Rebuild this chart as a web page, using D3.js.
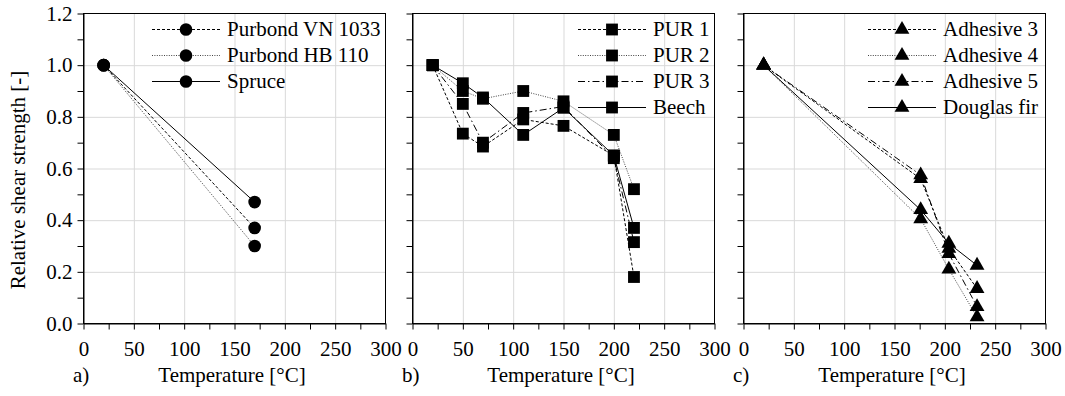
<!DOCTYPE html>
<html>
<head>
<meta charset="utf-8">
<script src="https://cdn.jsdelivr.net/npm/d3@7"></script>
<style>
  body { margin: 0; background: #fff; }
  svg, svg text { font-family: 'Liberation Serif', 'Times New Roman', Times, 'DejaVu Serif', serif; }
</style>
</head>
<body>
<div id="chart"></div>
<script>
// panel a) - Purbond adhesives vs spruce
const xA = [20, 170];
const purbondVN = [1.0, 0.37];
const purbondHB = [1.0, 0.30];
const spruce = [1.0, 0.47];

// panel b) - PUR adhesives vs beech
const xB = [20, 50, 70, 110, 150, 200, 220];
const pur1 = [1.0, 0.735, 0.685, 0.79, 0.765, 0.65, 0.18];
const pur2 = [1.0, 0.90, 0.87, 0.90, 0.86, 0.73, 0.52];
const pur3 = [1.0, 0.85, 0.70, 0.815, 0.84, 0.64, 0.315];
const beech = [1.0, 0.93, 0.875, 0.73, 0.835, 0.65, 0.37];

// panel c) - adhesives vs Douglas fir
const xC = [20, 176, 204, 232];
const adhesive3 = [1.0, 0.56, 0.29, 0.135];
const adhesive4 = [1.0, 0.405, 0.21, 0.025];
const adhesive5 = [1.0, 0.575, 0.27, 0.065];
const douglasFir = [1.0, 0.44, 0.31, 0.225];

const xTicks = d3.range(0, 301, 25);
const yTicks = d3.range(0, 13).map(i => i / 10);

const width = 1065, height = 396;
const plotTop = 13, plotBottom = 323, plotW = 302;

// line styles
const dash = {solid: null, dashed: "3,2", dotted: "1,1.4", dashdot: "7,3,1.5,3"};

const panels = [
  {left: 83, letter: "a)", xs: xA, shape: d3.symbolCircle, size: 125, legendX: 152, yLabels: true,
   series: [
     {name: "Purbond VN 1033", values: purbondVN, style: "dashed"},
     {name: "Purbond HB 110", values: purbondHB, style: "dotted"},
     {name: "Spruce", values: spruce, style: "solid"}]},
  {left: 412, letter: "b)", xs: xB, shape: d3.symbolSquare, size: 140, legendX: 578, yLabels: false,
   series: [
     {name: "PUR 1", values: pur1, style: "dashed"},
     {name: "PUR 2", values: pur2, style: "dotted"},
     {name: "PUR 3", values: pur3, style: "dashdot"},
     {name: "Beech", values: beech, style: "solid"}]},
  {left: 743, letter: "c)", xs: xC, shape: d3.symbolTriangle, size: 95, legendX: 868, yLabels: false,
   series: [
     {name: "Adhesive 3", values: adhesive3, style: "dashed"},
     {name: "Adhesive 4", values: adhesive4, style: "dotted"},
     {name: "Adhesive 5", values: adhesive5, style: "dashdot"},
     {name: "Douglas fir", values: douglasFir, style: "solid"}]}
];

const svg = d3.select("#chart").append("svg")
    .attr("width", width)
    .attr("height", height);

const y = d3.scaleLinear().domain([0, 1.2]).range([plotBottom + 0.5, plotTop + 0.5]);

panels.forEach(p => {
  const x = d3.scaleLinear().domain([0, 300]).range([p.left + 0.5, p.left + plotW + 0.5]);
  const g = svg.append("g");

  // gridlines
  g.append("g")
      .attr("transform", `translate(0,${plotBottom + 0.5})`)
      .call(d3.axisBottom(x).tickValues(d3.range(50, 300, 50)).tickSize(-(plotBottom - plotTop)).tickFormat(""))
      .call(s => s.select(".domain").remove())
      .selectAll("line").attr("stroke", "#d9d9d9");
  g.append("g")
      .attr("transform", `translate(${p.left + 0.5},0)`)
      .call(d3.axisLeft(y).tickValues(d3.range(1, 6).map(i => i * 0.2)).tickSize(-plotW).tickFormat(""))
      .call(s => s.select(".domain").remove())
      .selectAll("line").attr("stroke", "#d9d9d9");

  // plot border
  g.append("rect")
      .attr("x", p.left + 0.5).attr("y", plotTop + 0.5)
      .attr("width", plotW).attr("height", plotBottom - plotTop)
      .attr("fill", "none").attr("stroke", "#000");

  // axes
  const xAxis = g.append("g")
      .attr("transform", `translate(0,${plotBottom + 0.5})`)
      .call(d3.axisBottom(x).tickValues(xTicks).tickSize(6).tickSizeOuter(0).tickPadding(12)
        .tickFormat(d => d % 50 === 0 ? d : ""));
  const yAxis = g.append("g")
      .attr("transform", `translate(${p.left + 0.5},0)`)
      .call(d3.axisLeft(y).tickValues(yTicks).tickSize(6).tickSizeOuter(0).tickPadding(5)
        .tickFormat(d => p.yLabels && Math.round(d * 10) % 2 === 0 ? d3.format(".1f")(d) : ""));
  [xAxis, yAxis].forEach(a => {
    a.attr("font-family", null).attr("font-size", 21);
    a.selectAll("line, path").attr("stroke", "#000");
    a.selectAll("text").attr("fill", "#000");
  });

  // series lines and markers
  const line = d3.line().x((d, i) => x(p.xs[i])).y(d => y(d));
  p.series.forEach(s => {
    g.append("path")
        .datum(s.values)
        .attr("d", line)
        .attr("fill", "none")
        .attr("stroke", s.style === "dotted" ? "#444" : "#000")
        .attr("stroke-width", 1)
        .attr("stroke-dasharray", dash[s.style]);
  });
  p.series.forEach(s => {
    g.selectAll(null)
      .data(s.values)
      .join("path")
        .attr("transform", (d, i) => `translate(${x(p.xs[i])},${y(d)})`)
        .attr("d", d3.symbol(p.shape, p.size))
        .attr("fill", "#000");
  });

  // legend
  const leg = g.append("g");
  p.series.forEach((s, i) => {
    const ly = 29 + i * 26;
    leg.append("line")
        .attr("x1", p.legendX).attr("x2", p.legendX + 68)
        .attr("y1", ly + 0.5).attr("y2", ly + 0.5)
        .attr("stroke", s.style === "dotted" ? "#444" : "#000")
        .attr("stroke-dasharray", dash[s.style]);
    leg.append("path")
        .attr("transform", `translate(${p.legendX + 34},${ly + 0.5})`)
        .attr("d", d3.symbol(p.shape, p.size))
        .attr("fill", "#000");
    leg.append("text")
        .attr("x", p.legendX + 75).attr("y", ly)
        .attr("dy", "0.35em")
        .attr("font-size", 21)
        .text(s.name);
  });

  // titles
  g.append("text")
      .attr("x", p.left + plotW / 2 - 2).attr("y", 382)
      .attr("text-anchor", "middle")
      .attr("font-size", 21)
      .text("Temperature [°C]");
  g.append("text")
      .attr("x", p.left - 10).attr("y", 382)
      .attr("font-size", 21)
      .text(p.letter);
});

svg.append("text")
    .attr("transform", "translate(18,180) rotate(-90)")
    .attr("text-anchor", "middle")
    .attr("dy", "0.35em")
    .attr("font-size", 21)
    .text("Relative shear strength [-]");
</script>
</body>
</html>
